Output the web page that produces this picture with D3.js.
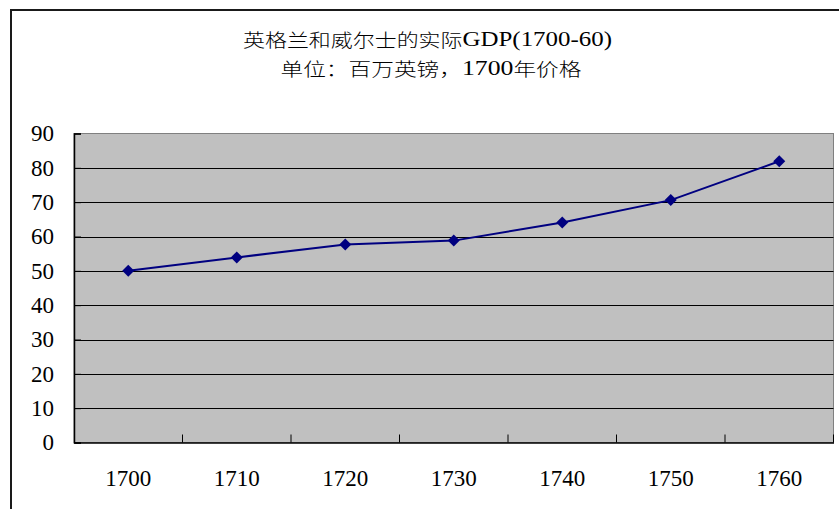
<!DOCTYPE html>
<html>
<head>
<meta charset="utf-8">
<script src="https://cdn.jsdelivr.net/npm/d3@7"></script>
<style>
html,body{margin:0;padding:0;background:#fff;}
svg{display:block;}
.num{font-family:"Liberation Serif","Times New Roman","DejaVu Serif",serif;}
.ttl{font-family:"Noto Sans CJK SC","Noto Sans CJK JP",sans-serif;font-weight:300;}
</style>
</head>
<body>
<svg id="chart" width="839" height="509"></svg>
<script>
const years = ["1700","1710","1720","1730","1740","1750","1760"];
const gdp = [50.0, 53.9, 57.7, 58.8, 64.1, 70.6, 81.9];
const yTicks = [0,10,20,30,40,50,60,70,80,90];
const titleLine1 = ["英格兰和威尔士的实际", "GDP(1700-60)"];
const titleLine2 = ["单位：百万英镑，", "1700", "年价格"];

const svg = d3.select("#chart");
const W = 839, H = 509;
const plot = {left: 74, right: 833.5, top: 133.5, bottom: 442.5};

svg.append("rect").attr("width", W).attr("height", H).attr("fill", "#fff");

svg.append("rect")
  .attr("x", 11).attr("y", 10).attr("width", 1000).attr("height", 1000)
  .attr("fill", "none").attr("stroke", "#1a1a1a").attr("stroke-width", 2);

const x = d3.scaleBand().domain(years).range([plot.left, plot.right]).padding(0);
const y = d3.scaleLinear().domain([0, 90]).range([plot.bottom, plot.top]);

svg.append("rect")
  .attr("x", plot.left).attr("y", plot.top)
  .attr("width", plot.right - plot.left).attr("height", plot.bottom - plot.top)
  .attr("fill", "#c0c0c0").attr("stroke", "#808080").attr("stroke-width", 1);

svg.append("g").selectAll("line").data(yTicks.filter(d => d > 0 && d < 90)).join("line")
  .attr("x1", plot.left).attr("x2", plot.right)
  .attr("y1", d => Math.round(y(d)) + 0.5).attr("y2", d => Math.round(y(d)) + 0.5)
  .attr("stroke", "#000").attr("stroke-width", 1);

const yAxis = svg.append("g").attr("transform", `translate(${plot.left},0)`)
  .call(d3.axisLeft(y).tickValues(yTicks).tickSize(-7).tickPadding(20).tickFormat(d3.format("d")));
yAxis.attr("font-family", null).attr("font-size", null);
yAxis.select(".domain").attr("stroke", "#000").attr("stroke-width", 1.5);
yAxis.selectAll(".tick line").attr("stroke", "#000");
yAxis.selectAll("text").attr("class", "num")
  .style("font-size", "23px").attr("fill", "#000");

const xAxis = svg.append("g").attr("transform", `translate(0,${plot.bottom})`)
  .call(d3.axisBottom(x).tickSize(0).tickPadding(43));
xAxis.attr("font-family", null).attr("font-size", null);
xAxis.select(".domain").attr("stroke", "#000").attr("stroke-width", 1.5);
xAxis.selectAll("text").attr("class", "num")
  .style("font-size", "23px").attr("fill", "#000").attr("dy", "0");

const bounds = years.map(d => x(d)).concat([x(years[years.length-1]) + x.bandwidth()]);
svg.append("g").selectAll("line").data(bounds.slice(1)).join("line")
  .attr("x1", d => d).attr("x2", d => d)
  .attr("y1", plot.bottom).attr("y2", plot.bottom - 8)
  .attr("stroke", "#000").attr("stroke-width", 1);

const pts = years.map((d, i) => [x(d) + x.bandwidth() / 2, y(gdp[i])]);
svg.append("path")
  .attr("d", d3.line()(pts))
  .attr("fill", "none").attr("stroke", "#000080").attr("stroke-width", 2);

svg.append("g").selectAll("path").data(pts).join("path")
  .attr("d", d3.symbol(d3.symbolSquare, 72)())
  .attr("transform", d => `translate(${d[0]},${d[1]}) rotate(45)`)
  .attr("fill", "#000080");

function title(parts, cx, cy, len) {
  const t = svg.append("text").attr("class", "ttl")
    .attr("x", cx).attr("y", cy).attr("text-anchor", "middle")
    .attr("dominant-baseline", "central")
    .style("font-size", "18.5px").attr("fill", "#000")
    .attr("textLength", len).attr("lengthAdjust", "spacingAndGlyphs");
  parts.forEach(p => {
    const ts = t.append("tspan").text(p);
    if (/^[\x00-\x7f]+$/.test(p)) ts.attr("class", "num").style("font-size", "21px");
  });
}
title(titleLine1, 427.5, 39, 369);
title(titleLine2, 431, 67.5, 301);
</script>
</body>
</html>
